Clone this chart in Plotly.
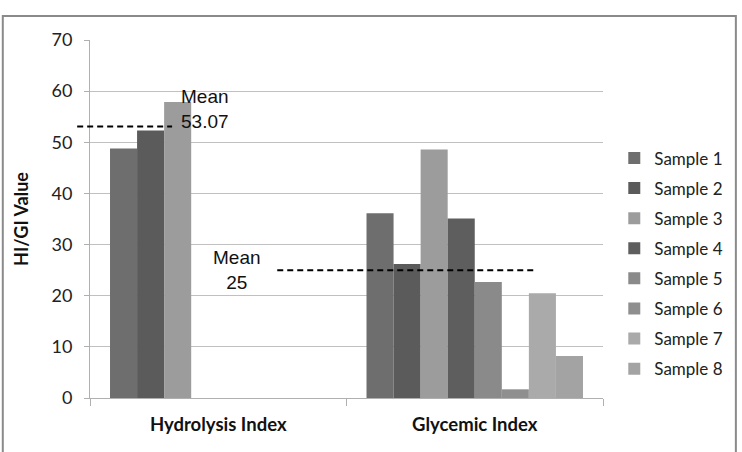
import plotly.graph_objects as go

categories = ["Hydrolysis Index", "Glycemic Index"]
samples = ["Sample 1", "Sample 2", "Sample 3", "Sample 4",
           "Sample 5", "Sample 6", "Sample 7", "Sample 8"]
hi_values = [48.8, 52.3, 57.9, None, None, None, None, None]
gi_values = [36.1, 26.2, 48.6, 35.1, 22.7, 1.7, 20.5, 8.2]
colors = ["#6e6e6e", "#5b5b5b", "#9c9c9c", "#5e5e5e",
          "#8a8a8a", "#8f8f8f", "#aaaaaa", "#a3a3a3"]
hi_mean = 53.07
gi_mean = 25
y_ticks = [0, 10, 20, 30, 40, 50, 60, 70]

fig = go.Figure()
for i, name in enumerate(samples):
    fig.add_trace(go.Bar(
        x=categories, y=[hi_values[i], gi_values[i]], name=name,
        marker=dict(color=colors[i], line=dict(width=0)),
        legendgroup=name,
    ))

# mean lines
fig.add_shape(type="line", xref="paper", yref="y", x0=-0.025, x1=0.16,
              y0=hi_mean, y1=hi_mean, line=dict(color="black", width=2, dash="6px,4px"))
fig.add_shape(type="line", xref="paper", yref="y", x0=0.365, x1=0.871,
              y0=gi_mean, y1=gi_mean, line=dict(color="black", width=2, dash="6px,4px"))

fig.add_annotation(xref="paper", yref="y", x=0.224, y=hi_mean + 3.4,
                   xanchor="center", yanchor="middle", align="center",
                   text="Mean<br>%.2f" % hi_mean, showarrow=False,
                   font=dict(family="Liberation Sans", size=19, color="#111"))
fig.add_annotation(xref="paper", yref="y", x=0.287, y=gi_mean,
                   xanchor="center", yanchor="middle", align="center",
                   text="Mean<br>%d" % gi_mean, showarrow=False,
                   font=dict(family="Liberation Sans", size=19, color="#111"))

# outer border
fig.add_shape(type="rect", xref="paper", yref="paper", x0=-0.170, x1=1.259,
              y0=-0.4, y1=1.067, line=dict(color="#8a8a8a", width=2),
              fillcolor="rgba(0,0,0,0)")

fig.update_layout(
    width=742, height=452,
    margin=dict(l=90, r=139, t=40, b=54),
    paper_bgcolor="white", plot_bgcolor="white",
    barmode="group", bargap=0.156, bargroupgap=0,
    font=dict(family="Lato", size=17, color="#222"),
    legend=dict(x=1.022, xanchor="left", y=0.376, yanchor="middle",
                tracegroupgap=5, font=dict(family="Lato", size=17, color="#222"),
                itemwidth=30),
    showlegend=True,
)
fig.update_xaxes(
    type="category", showline=True, linecolor="#b0b0b0", linewidth=1,
    ticks="outside", tickson="boundaries", ticklen=7, tickcolor="#b0b0b0",
    tickfont=dict(family="Lato", size=18.5, color="#111", weight="bold"),
    ticklabelstandoff=10,
    showgrid=False,
)
fig.update_yaxes(
    range=[0, 70], tickvals=y_ticks, showline=True, linecolor="#b0b0b0", linewidth=1,
    ticks="outside", ticklen=5, tickcolor="#b0b0b0",
    gridcolor="#c0c0c0", gridwidth=1, zeroline=False,
    tickfont=dict(family="Lato", size=18, color="#222"),
    ticklabelstandoff=8,
    title=dict(text="<b>HI/GI Value</b>", font=dict(family="Lato", size=18, color="#111"),
               standoff=18),
)

fig.write_html("out.html")
